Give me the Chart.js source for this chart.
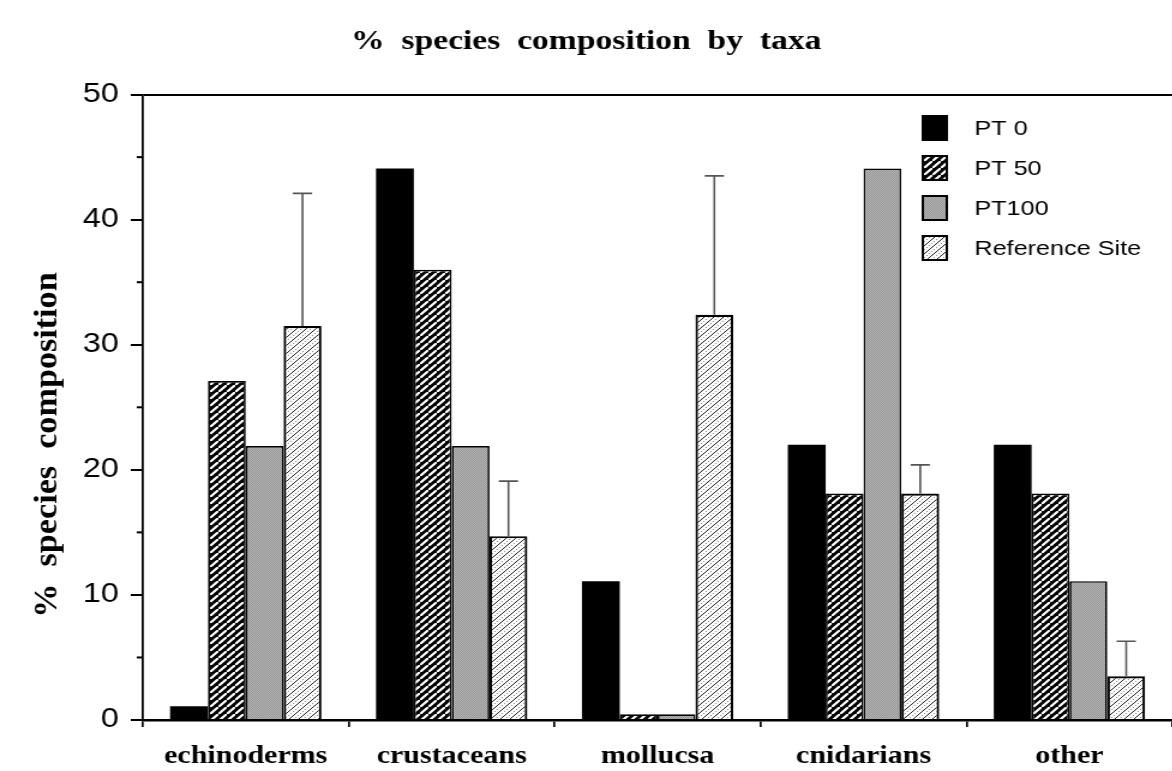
<!DOCTYPE html>
<html>
<head>
<meta charset="utf-8">
<title>% species composition by taxa</title>
<script src="https://cdn.jsdelivr.net/npm/chart.js@4.4.1/dist/chart.umd.min.js"></script>
<style>
  html, body { margin: 0; padding: 0; background: #fff; overflow: hidden; }
  /* the scanned original is stretched sideways, so the canvas is too */
  #wrap { width: 977px; height: 771px; transform: scaleX(1.2); transform-origin: 0 0; }
</style>
</head>
<body>
<div id="wrap"><canvas id="taxaChart" width="977" height="771"></canvas></div>
<script>
// Data
const categories = ['echinoderms', 'crustaceans', 'mollucsa', 'cnidarians', 'other'];
const seriesLabels = ['PT 0', 'PT 50', 'PT100', 'Reference Site'];
const pt0 = [1.1, 44.1, 11.1, 22.0, 22.0];
const pt50 = [27.1, 36.0, 0.45, 18.1, 18.1];
const pt100 = [21.9, 21.9, 0.45, 44.1, 11.1];
const refSite = [31.5, 14.7, 32.4, 18.1, 3.5];
const refSiteUpper = [42.1, 19.1, 43.5, 20.4, 6.3]; // top of error bar
const yMin = 0;
const yMax = 50;
const yStep = 10;
const yMinorTicks = [5, 15, 25, 35, 45];

const titleText = '%  species  composition  by  taxa';
const yTitleText = '%  species  composition';

const serif = "'Liberation Serif', 'Times New Roman', serif";
const sans = "'Liberation Sans', Arial, sans-serif";

// fill patterns, drawn on small tiles
function makePattern(size, drawTile) {
    const tile = document.createElement('canvas');
    tile.width = size;
    tile.height = size;
    drawTile(tile.getContext('2d'), size);
    return document.getElementById('taxaChart').getContext('2d').createPattern(tile, 'repeat');
}

const hatchBlack = makePattern(7, (c, s) => {
    c.fillStyle = '#000';
    c.fillRect(0, 0, s, s);
    c.strokeStyle = '#fff';
    c.lineWidth = 2.2;
    c.beginPath();
    c.moveTo(-1, s + 1); c.lineTo(s + 1, -1);
    c.moveTo(-2, 1); c.lineTo(1, -2);
    c.moveTo(s - 1, s + 2); c.lineTo(s + 2, s - 1);
    c.stroke();
});

const stippleGrey = makePattern(2, (c) => {
    c.fillStyle = '#b8b8b8';
    c.fillRect(0, 0, 2, 2);
    c.fillStyle = '#929292';
    c.fillRect(0, 0, 1, 1);
    c.fillRect(1, 1, 1, 1);
});

const hatchLight = makePattern(8, (c, s) => {
    c.fillStyle = '#fff';
    c.fillRect(0, 0, s, s);
    c.strokeStyle = '#222';
    c.lineWidth = 1;
    c.beginPath();
    c.moveTo(0, s); c.lineTo(s, 0);
    c.stroke();
    c.strokeStyle = '#666';
    c.setLineDash([1, 2]);
    c.beginPath();
    c.moveTo(0, s / 2); c.lineTo(s / 2, 0);
    c.moveTo(s / 2, s); c.lineTo(s, s / 2);
    c.stroke();
});

// error bars, minor ticks, y title and legend
const extrasPlugin = {
    id: 'extras',
    afterDatasetsDraw(chart) {
        const ctx = chart.ctx;
        const y = chart.scales.y;
        const meta = chart.getDatasetMeta(3);
        ctx.save();
        ctx.strokeStyle = '#555';
        ctx.lineWidth = 1.6;
        meta.data.forEach((bar, i) => {
            const top = y.getPixelForValue(refSiteUpper[i]);
            ctx.beginPath();
            ctx.moveTo(bar.x, bar.y);
            ctx.lineTo(bar.x, top);
            ctx.moveTo(bar.x - 8, top);
            ctx.lineTo(bar.x + 8, top);
            ctx.stroke();
        });
        ctx.restore();
    },
    afterDraw(chart) {
        const ctx = chart.ctx;
        const y = chart.scales.y;
        const left = chart.chartArea.left;
        ctx.save();

        ctx.strokeStyle = '#000';
        ctx.lineWidth = 2;
        yMinorTicks.forEach(v => {
            const py = y.getPixelForValue(v);
            ctx.beginPath();
            ctx.moveTo(left - 5, py);
            ctx.lineTo(left, py);
            ctx.stroke();
        });

        // axis title is longer in the original than the font alone gives
        ctx.fillStyle = '#000';
        ctx.font = 'bold 28px ' + serif;
        ctx.textAlign = 'center';
        ctx.textBaseline = 'middle';
        ctx.translate(40, 445);
        ctx.rotate(-Math.PI / 2);
        ctx.scale(1.22, 1);
        ctx.fillText(yTitleText, 0, 0);
        ctx.setTransform(1, 0, 0, 1, 0, 0);

        ctx.font = '21px ' + sans;
        ctx.textAlign = 'left';
        chart.data.datasets.forEach((ds, i) => {
            const cy = 128 + i * 40;
            ctx.fillStyle = ds.backgroundColor;
            ctx.fillRect(768, cy - 13, 22, 26);
            if (ds.borderWidth) {
                ctx.strokeStyle = '#000';
                ctx.lineWidth = 2;
                ctx.strokeRect(769, cy - 12, 20, 24);
            }
            ctx.fillStyle = '#000';
            ctx.fillText(ds.label, 812, cy + 1);
        });
        ctx.restore();
    }
};

const chart = new Chart(document.getElementById('taxaChart'), {
    type: 'bar',
    data: {
        labels: categories,
        datasets: [{
            label: seriesLabels[0],
            data: pt0,
            backgroundColor: '#000',
            borderColor: '#000',
            borderWidth: 0
        }, {
            label: seriesLabels[1],
            data: pt50,
            backgroundColor: hatchBlack,
            borderColor: '#000',
            borderWidth: 1.7
        }, {
            label: seriesLabels[2],
            data: pt100,
            backgroundColor: stippleGrey,
            borderColor: '#000',
            borderWidth: 1.7
        }, {
            label: seriesLabels[3],
            data: refSite,
            backgroundColor: hatchLight,
            borderColor: '#000',
            borderWidth: 2.2
        }]
    },
    options: {
        responsive: false,
        animation: false,
        categoryPercentage: 0.735,
        barPercentage: 1.0,
        plugins: {
            legend: { display: false },
            tooltip: { enabled: false },
            title: {
                display: true,
                text: titleText,
                color: '#000',
                font: { family: serif, size: 28, weight: 'bold', lineHeight: 1.2 },
                padding: { top: 25, bottom: 36 }
            }
        },
        scales: {
            x: {
                afterFit: (scale) => { scale.height = 51; },
                grid: {
                    offset: true,
                    drawOnChartArea: false,
                    color: '#000',
                    lineWidth: 1.7,
                    tickLength: 7
                },
                border: { color: '#000', width: 2.5 },
                ticks: {
                    color: '#000',
                    padding: 15,
                    font: { family: serif, size: 25, weight: 'bold' }
                }
            },
            y: {
                min: yMin,
                max: yMax,
                afterFit: (scale) => { scale.width = 119; },
                grid: {
                    color: (c) => (c.tick && c.tick.value === yMax) ? '#000' : 'rgba(0,0,0,0)',
                    tickColor: '#000',
                    lineWidth: 2,
                    tickLength: 10
                },
                border: { color: '#000', width: 1.8 },
                ticks: {
                    stepSize: yStep,
                    color: '#000',
                    padding: 10,
                    font: { family: sans, size: 27 }
                }
            }
        }
    },
    plugins: [extrasPlugin]
});
</script>
</body>
</html>
